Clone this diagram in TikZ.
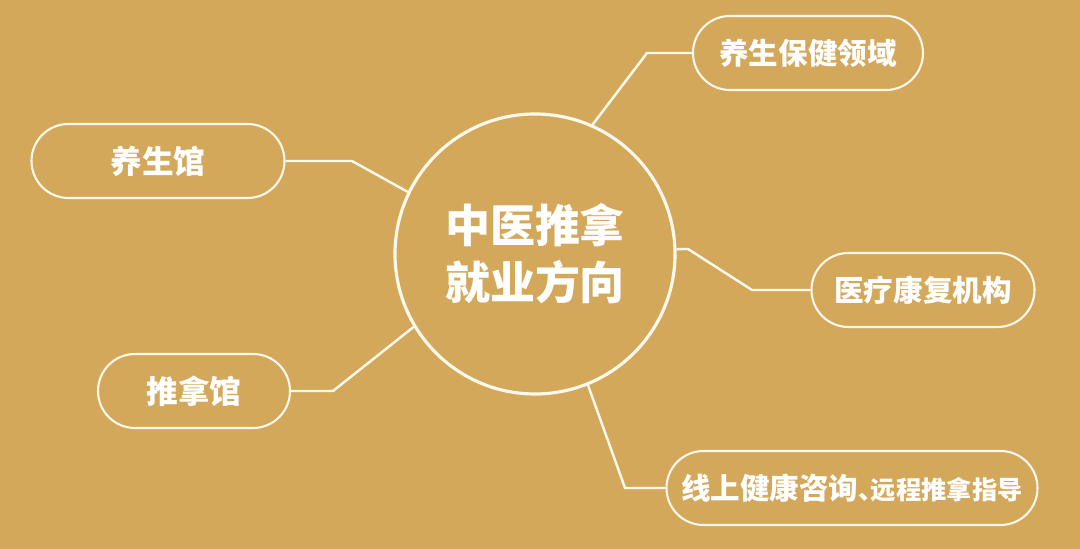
\documentclass[tikz,border=0pt]{standalone}
\usepackage{fontspec}
\newfontfamily\cjk{Noto Sans CJK SC}
\definecolor{gold}{RGB}{212,168,90}
\definecolor{cream}{RGB}{252,248,236}

\begin{document}
\begin{tikzpicture}[
        branch/.style={draw=cream, line width=0.6pt, rounded corners=0.37cm,
            minimum height=0.74cm, text=white, font=\cjk\bfseries\fontsize{8.4}{10}\selectfont},
        bigbranch/.style={branch, font=\cjk\bfseries\fontsize{9}{11}\selectfont},
        link/.style={draw=cream, line width=0.7pt}
    ]
    \useasboundingbox[fill=gold] (0, 0) rectangle (10.8, 5.49);
    %\draw[lightgray, step=1] (0, 0) grid (10.8, 5.49);
    \node[circle, draw=cream, line width=0.9pt, minimum size=2.8cm, inner sep=0pt,
        text=white, align=center, font=\cjk\bfseries\fontsize{12.8}{16.2}\selectfont]
        (hub) at (5.35, 2.95) {中医推拿\\就业方向};

    \node[branch, minimum width=2.30cm] (health) at (8.08, 4.96) {养生保健领域};
    \node[bigbranch, minimum width=2.53cm] (spa) at (1.58, 3.88) {养生馆};
    \node[bigbranch, minimum width=1.92cm] (massage) at (1.94, 1.58) {推拿馆};
    \node[branch, minimum width=2.23cm] (rehab) at (9.23, 2.59) {医疗康复机构};
    \node[branch, minimum width=3.71cm] (online) at (8.52, 0.61)
        {线上健康咨询{\fontsize{7.2}{8}\selectfont 、\kern-0.5em 远程推拿指导}};

    \coordinate (kHealth) at (6.47, 4.96);
    \coordinate (kSpa) at (3.52, 3.88);
    \coordinate (kMassage) at (3.33, 1.58);
    \coordinate (kRehabA) at (6.88, 3.00);
    \coordinate (kRehabB) at (7.52, 2.59);
    \coordinate (kOnline) at (6.25, 0.61);

    \draw[link] (hub.66) -- (kHealth) -- (health.west);
    \draw[link] (hub.154) -- (kSpa) -- (spa.east);
    \draw[link] (hub.211) -- (kMassage) -- (massage.east);
    \draw[link] (hub.2) -- (kRehabA) -- (kRehabB) -- (rehab.west);
    \draw[link] (hub.292) -- (kOnline) -- (online.west);
\end{tikzpicture}
\end{document}
